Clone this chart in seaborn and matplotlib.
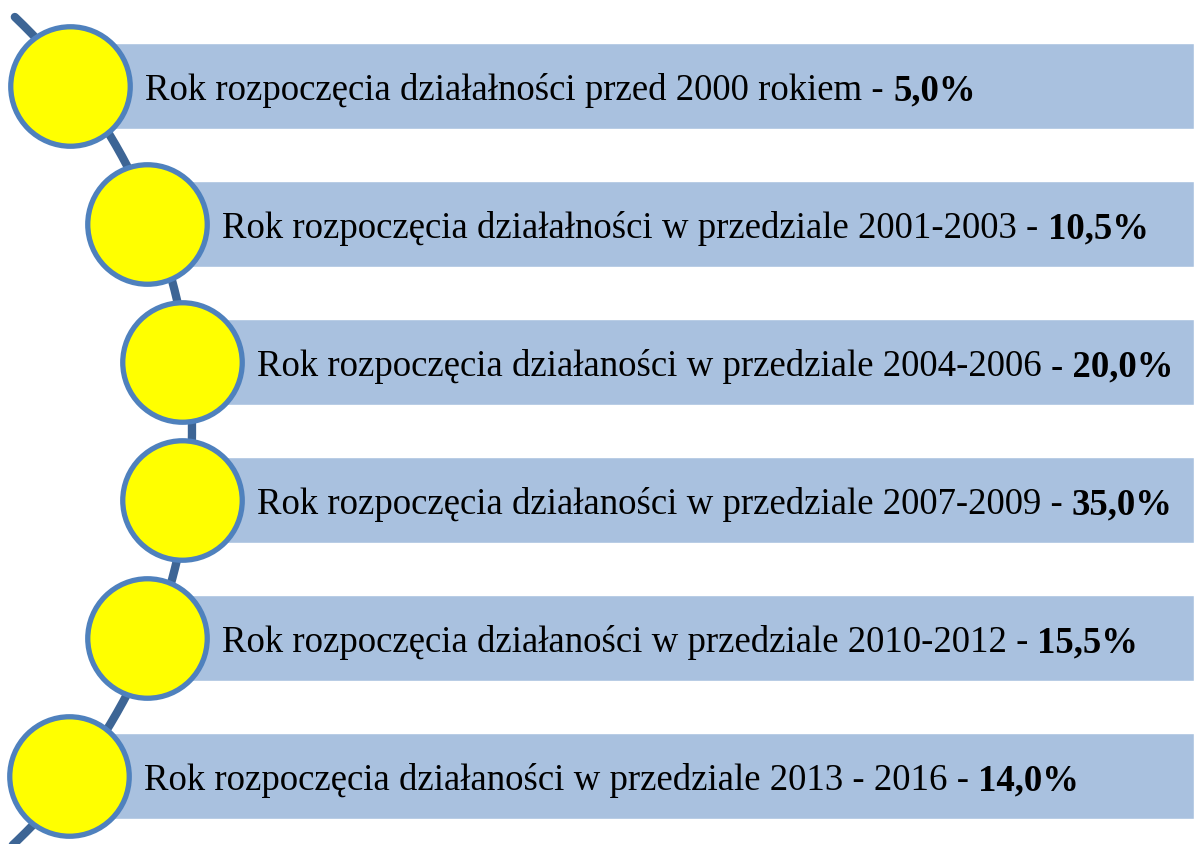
import numpy as np
import pandas as pd
import matplotlib.pyplot as plt
import seaborn as sns

# Dane
labels = [
    "Rok rozpoczęcia działałności przed 2000 rokiem - ",
    "Rok rozpoczęcia działałności w przedziale 2001-2003 - ",
    "Rok rozpoczęcia działaności w przedziale 2004-2006 ",
    "Rok rozpoczęcia działaności w przedziale 2007-2009 - ",
    "Rok rozpoczęcia działaności w przedziale 2010-2012 - ",
    "Rok rozpoczęcia działaności w przedziale 2013 - 2016 - ",
]
values = [5.0, 10.5, 20.0, 35.0, 15.5, 14.0]
bold_dash = [False, False, True, False, False, False]

W, H = 1194, 845

sns.set_theme(style="white")
plt.rcParams["font.family"] = ["Liberation Serif", "DejaVu Serif"]

fig = plt.figure(figsize=(W / 100, H / 100), dpi=100)
ax = fig.add_axes([0, 0, 1, 1])
ax.set_xlim(0, W)
ax.set_ylim(H, 0)
ax.axis("off")

# Geometria łuku
R = 570
yc = 431
cx = -384
row_h = 138
y0 = 87

n = len(labels)
df = pd.DataFrame({"label": labels, "value": values})
df["y"] = y0 + row_h * np.arange(n)
df["x"] = cx + np.sqrt(R ** 2 - (df["y"] - yc) ** 2)

# Łuk
ya = np.linspace(18, 850, 300)
xa = cx + np.sqrt(R ** 2 - (ya - yc) ** 2) + 6
ax.plot(xa, ya, color="#3d6595", lw=6, solid_capstyle="round", zorder=1)

# Paski
ax.barh(df["y"], W - df["x"], left=df["x"], height=86,
        color="#a9c1df", zorder=2)

# Koła
sns.scatterplot(data=df, x="x", y="y", s=7400, color="#ffff00",
                edgecolor="#4f81bd", linewidth=3.8, zorder=3, ax=ax,
                legend=False)

# Teksty
for i, row in df.iterrows():
    t = ax.text(row["x"] + 75, row["y"], row["label"], fontsize=26.5,
                va="center_baseline", ha="left", color="black", zorder=4)
    val = f"{row['value']:.1f}%".replace(".", ",")
    if bold_dash[i]:
        val = "- " + val
    ax.annotate(val, xy=(1, row["y"]), xycoords=(t, "data"),
                fontsize=26.5, fontweight="bold", va="center_baseline",
                ha="left", color="black", zorder=4)

fig.savefig("out.png", dpi=100)
